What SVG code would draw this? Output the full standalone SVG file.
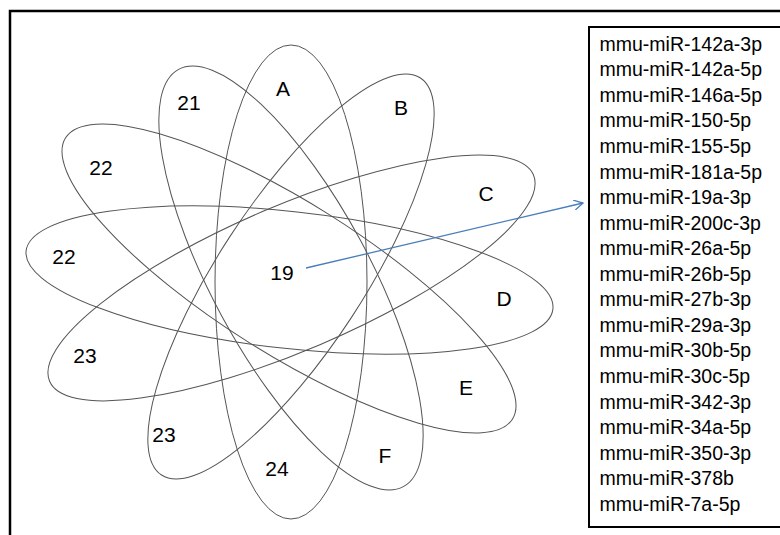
<svg xmlns="http://www.w3.org/2000/svg" width="780" height="535" viewBox="0 0 780 535">
<defs>
<style>
.frame{fill:none;stroke:#000;stroke-width:2.5}
.box{fill:#fff;stroke:#000;stroke-width:2}
.ell{fill:none;stroke:#555;stroke-width:1}
.lbl{font-family:"Liberation Sans",Arial,sans-serif;font-size:21px;fill:#000;text-anchor:middle;dominant-baseline:central}
.item{font-family:"Liberation Sans",Arial,sans-serif;font-size:19.5px;fill:#000}
.arrow{fill:none;stroke:#4a7ebb;stroke-width:1.3}
</style>
<marker id="head" viewBox="0 0 10 10" refX="9" refY="5" markerWidth="10" markerHeight="10" markerUnits="userSpaceOnUse" orient="auto">
<path d="M0,0 L9,5 L0,10" fill="none" stroke="#4a7ebb" stroke-width="1.3"/>
</marker>
</defs>
<rect width="780" height="535" fill="#fff"/>
<rect class="frame" x="10" y="11" width="800" height="600"/>
<g id="venn">
<ellipse class="ell" cx="291" cy="282" rx="76" ry="237"/>
<ellipse class="ell" cx="291" cy="278" rx="237" ry="79" transform="rotate(61.7 291 278)"/>
<ellipse class="ell" cx="289" cy="278.5" rx="264" ry="75.5" transform="rotate(32.2 289 278.5)"/>
<ellipse class="ell" cx="289.5" cy="280" rx="265" ry="68.5" transform="rotate(6.3 289.5 280)"/>
<ellipse class="ell" cx="291.5" cy="278" rx="263" ry="72.5" transform="rotate(-23.1 291.5 278)"/>
<ellipse class="ell" cx="291" cy="276.5" rx="237" ry="73" transform="rotate(-56.9 291 276.5)"/>
</g>
<g id="labels">
<text class="lbl" x="189" y="102">21</text>
<text class="lbl" x="283" y="88">A</text>
<text class="lbl" x="401" y="107">B</text>
<text class="lbl" x="101" y="167">22</text>
<text class="lbl" x="486" y="193">C</text>
<text class="lbl" x="64" y="256">22</text>
<text class="lbl" x="282" y="272">19</text>
<text class="lbl" x="504" y="298">D</text>
<text class="lbl" x="85" y="355">23</text>
<text class="lbl" x="466" y="387">E</text>
<text class="lbl" x="164" y="434">23</text>
<text class="lbl" x="385" y="455">F</text>
<text class="lbl" x="277" y="468">24</text>
</g>
<g id="connectors">
<line class="arrow" x1="306" y1="268" x2="583" y2="203" marker-end="url(#head)"/>
</g>
<g id="list">
<rect class="box" x="589" y="27" width="220" height="500"/>
<text class="item" x="599.5" y="50.7">mmu-miR-142a-3p</text>
<text class="item" x="599.5" y="76.26">mmu-miR-142a-5p</text>
<text class="item" x="599.5" y="101.82">mmu-miR-146a-5p</text>
<text class="item" x="599.5" y="127.38">mmu-miR-150-5p</text>
<text class="item" x="599.5" y="152.94">mmu-miR-155-5p</text>
<text class="item" x="599.5" y="178.5">mmu-miR-181a-5p</text>
<text class="item" x="599.5" y="204.06">mmu-miR-19a-3p</text>
<text class="item" x="599.5" y="229.62">mmu-miR-200c-3p</text>
<text class="item" x="599.5" y="255.18">mmu-miR-26a-5p</text>
<text class="item" x="599.5" y="280.74">mmu-miR-26b-5p</text>
<text class="item" x="599.5" y="306.3">mmu-miR-27b-3p</text>
<text class="item" x="599.5" y="331.86">mmu-miR-29a-3p</text>
<text class="item" x="599.5" y="357.42">mmu-miR-30b-5p</text>
<text class="item" x="599.5" y="382.98">mmu-miR-30c-5p</text>
<text class="item" x="599.5" y="408.54">mmu-miR-342-3p</text>
<text class="item" x="599.5" y="434.1">mmu-miR-34a-5p</text>
<text class="item" x="599.5" y="459.66">mmu-miR-350-3p</text>
<text class="item" x="599.5" y="485.22">mmu-miR-378b</text>
<text class="item" x="599.5" y="510.78">mmu-miR-7a-5p</text>
</g>
</svg>
